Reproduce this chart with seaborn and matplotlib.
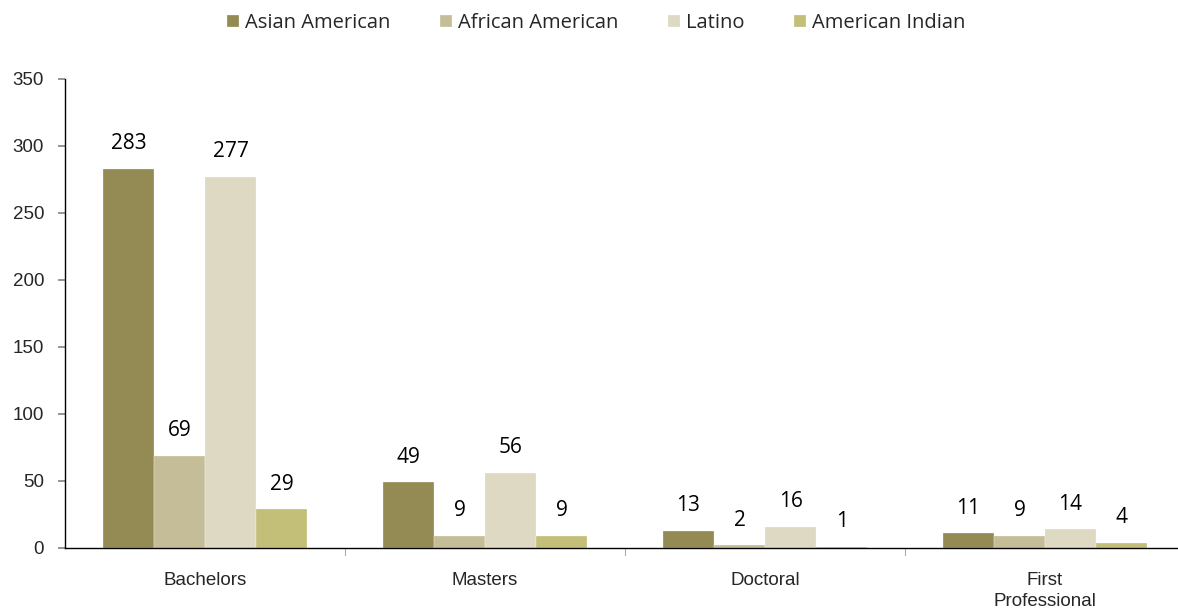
import matplotlib
matplotlib.use("Agg")
import matplotlib.pyplot as plt
import seaborn as sns
import pandas as pd

degrees = ["Bachelors", "Masters", "Doctoral", "First\nProfessional"]
groups = ["Asian American", "African American", "Latino", "American Indian"]
asian_american = [283, 49, 13, 11]
african_american = [69, 9, 2, 9]
latino = [277, 56, 16, 14]
american_indian = [29, 9, 1, 4]
colors = ["#948A54", "#C4BD97", "#DDD9C3", "#C3BE78"]
y_ticks = [0, 50, 100, 150, 200, 250, 300, 350]

series = [asian_american, african_american, latino, american_indian]
rows = []
for g, vals in zip(groups, series):
    for d, v in zip(degrees, vals):
        rows.append({"degree": d, "group": g, "count": v})
df = pd.DataFrame(rows)

sns.set_theme(style="white")
plt.rcParams["font.family"] = ["Liberation Sans", "DejaVu Sans"]

fig = plt.figure(figsize=(11.78, 6.16), dpi=100)
ax = fig.add_axes([0.0552, 0.1104, 0.9448, 0.7614])

sns.barplot(data=df, x="degree", y="count", hue="group", order=degrees,
            hue_order=groups, palette=colors, width=0.73, gap=0,
            edgecolor="white", linewidth=0.2, saturation=1, ax=ax,
            errorbar=None)

# value labels above each bar
for container in ax.containers:
    for bar in container:
        h = bar.get_height()
        ax.annotate(f"{int(round(h))}", (bar.get_x() + bar.get_width() / 2, h),
                    xytext=(0, 18), textcoords="offset points",
                    ha="center", va="center", fontsize=15,
                    family=["Open Sans", "DejaVu Sans"], color="black")

ax.set_xlim(-0.5, -0.5 + 1113 / 280)
ax.set_ylim(0, 350)
ax.set_yticks(y_ticks)
ax.set_xlabel("")
ax.set_ylabel("")
ax.tick_params(axis="y", labelsize=13.5, length=5, direction="out",
               color="#888888", left=True, pad=10)
ax.tick_params(axis="x", labelsize=13.5, length=0, pad=17)
ax.set_xticks(range(len(degrees)))
ax.set_xticklabels(degrees, linespacing=1.3)
for xs in [0.5, 1.5, 2.5]:
    ax.plot([xs, xs], [0, -0.015], transform=ax.get_xaxis_transform(),
            color="#aaaaaa", lw=0.8, clip_on=False)

for s in ["top", "right"]:
    ax.spines[s].set_visible(False)
ax.spines["left"].set_color("black")
ax.spines["bottom"].set_color("black")
ax.spines["left"].set_linewidth(1.0)
ax.spines["bottom"].set_linewidth(1.0)

handles, labels = ax.get_legend_handles_labels()
ax.get_legend().remove()
fig.legend(handles, labels, loc="upper center", bbox_to_anchor=(0.506, 1.008),
           ncol=4, frameon=False, handlelength=0.6, handleheight=0.6,
           handletextpad=0.3, columnspacing=2.45,
           prop={"family": ["Open Sans", "DejaVu Sans"], "size": 14.5})

fig.savefig("out.png", dpi=100)
